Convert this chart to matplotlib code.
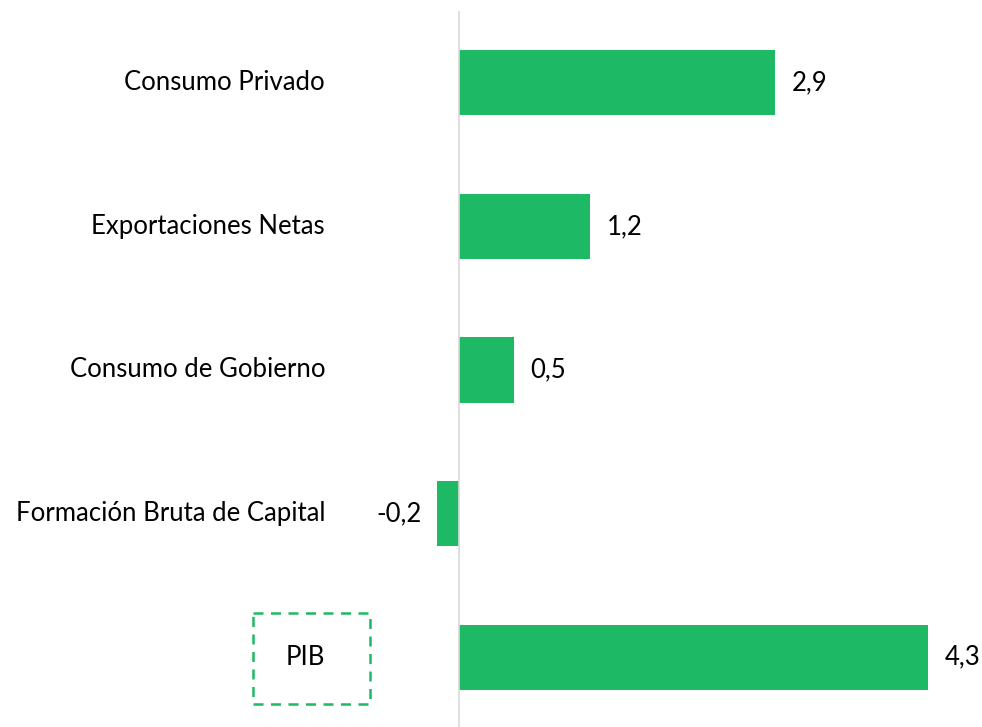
import matplotlib.pyplot as plt
from matplotlib.patches import Rectangle

categorias = ["Consumo Privado", "Exportaciones Netas", "Consumo de Gobierno",
              "Formación Bruta de Capital", "PIB"]
valores = [2.9, 1.2, 0.5, -0.2, 4.3]
etiquetas = ["2,9", "1,2", "0,5", "-0,2", "4,3"]

verde = '#1DB964'
plt.rcParams['font.family'] = ['Lato', 'DejaVu Sans']
fs = 18.5

fig = plt.figure(figsize=(9.82, 7.27), dpi=100)
ax = fig.add_axes([0, -2 / 727, 1, 718 / 727])

y = list(range(len(categorias)))
ax.barh(y, valores, height=0.453, color=verde)

for yi, v, lab in zip(y, valores, etiquetas):
    if v >= 0:
        ax.text(v + 0.155, yi, lab, va='center', ha='left', fontsize=fs)
    else:
        ax.text(v - 0.14, yi, lab, va='center', ha='right', fontsize=fs)

ax.set_xlim(-459 / 109.07, 523 / 109.07)
ax.set_ylim(len(categorias) - 0.5, -0.5)
ax.set_xticks([])
ax.set_yticks([])
for s in ax.spines.values():
    s.set_visible(False)

ax.axvline(0, color='#d9d9d9', lw=1.2)

# nombres de categorias a la izquierda del eje cero
for yi, c in zip(y, categorias):
    ax.text(-1.228, yi, c, ha='right', va='center', fontsize=fs)

# recuadro punteado alrededor de PIB
ax.add_patch(Rectangle((-1.889, 3.693), 1.073, 0.635, fill=False,
                       edgecolor=verde, lw=1.8, linestyle=(0, (4, 3)), clip_on=False))

fig.savefig('out.png', dpi=100)
